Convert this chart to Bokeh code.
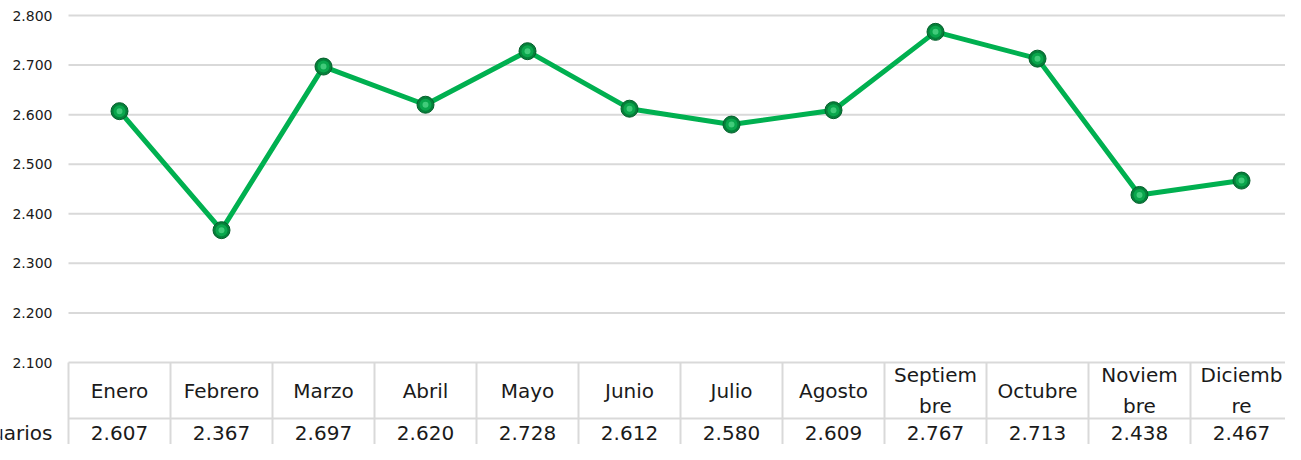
from bokeh.plotting import figure
from bokeh.models import Range1d
from bokeh.core.properties import value
from bokeh.embed import file_html
from bokeh.resources import INLINE

# ---- data ----
months = ["Enero", "Febrero", "Marzo", "Abril", "Mayo", "Junio", "Julio",
          "Agosto", "Septiembre", "Octubre", "Noviembre", "Diciembre"]
month_labels = ["Enero", "Febrero", "Marzo", "Abril", "Mayo", "Junio", "Julio",
                "Agosto", "Septiem\nbre", "Octubre", "Noviem\nbre", "Diciemb\nre"]
usuarios = [2607, 2367, 2697, 2620, 2728, 2612, 2580, 2609, 2767, 2713, 2438, 2467]
y_ticks = [2100, 2200, 2300, 2400, 2500, 2600, 2700, 2800]
row_label = "Usuarios"

def fmt(v):
    return f"{v:,}".replace(",", ".")

FONT = "DejaVu Sans"
GRID = "#d9d9d9"
TXT = "#1a1a1a"

# ---- layout geometry (pixels) ----
W, H = 1285, 444
LEFT = 68                           # px where the plot area / table begins
CELL = 102.0                        # px per category
PX_PER_UNIT = 347 / 700.0           # px per data unit
TOP_PAD = 15                        # px above 2800
y_top = 2800 + TOP_PAD / PX_PER_UNIT
y_bot = 2100 - (H - TOP_PAD - 347) / PX_PER_UNIT
x_start = 0.5 - LEFT / CELL
x_end = 0.5 + (W - LEFT) / CELL

def y_at(px_below_2100):
    return 2100 - px_below_2100 / PX_PER_UNIT

def x_at(px_from_left_edge):
    return 0.5 + px_from_left_edge / CELL

n = len(months)
xs = [i + 1 for i in range(n)]

p = figure(width=W, height=H, output_backend="svg", toolbar_location=None,
           x_axis_location=None, y_axis_location=None,
           min_border_left=0, min_border_right=0, min_border_top=0, min_border_bottom=0,
           x_range=Range1d(x_start, x_end), y_range=Range1d(y_bot, y_top))
p.outline_line_color = None
p.xgrid.visible = False
p.ygrid.visible = False
p.background_fill_color = "white"
p.border_fill_color = "white"

# gridlines (start at the plot-area edge)
m = len(y_ticks)
p.segment(x0=[0.5] * m, x1=[x_end] * m, y0=y_ticks, y1=y_ticks,
          line_color=GRID, line_width=2)

# data table lines
p.segment(x0=[0.5], x1=[x_end], y0=[y_at(56)], y1=[y_at(56)], line_color=GRID, line_width=2)
bounds = [i + 0.5 for i in range(n + 1)]
p.segment(x0=bounds, x1=bounds, y0=[2100] * len(bounds), y1=[y_bot] * len(bounds),
          line_color=GRID, line_width=2)

# y tick labels
p.text([x_at(-16)] * m, y_ticks, text=[fmt(v) for v in y_ticks],
       text_align="right", text_baseline="middle",
       text_font=value(FONT), text_font_size="14px", text_color=TXT)

# row label (cut at the left edge, as in the reference)
p.text([x_at(-16)], [y_at(70)], text=[row_label], text_align="right", text_baseline="middle",
       text_font=value(FONT), text_font_size="20px", text_color=TXT)

# line + markers
p.line(xs, usuarios, line_color="#00b050", line_width=5)
p.scatter(xs, usuarios, size=17, fill_color="#05803a", line_color="#045f2b", line_width=1)
p.scatter(xs, usuarios, size=12, fill_color="#0aa64c", line_color=None)
p.scatter(xs, usuarios, size=6, fill_color="#4fd486", line_color=None, fill_alpha=0.8)

# table texts
p.text(xs, [y_at(28)] * n, text=month_labels, text_align="center", text_baseline="middle",
       text_font=value(FONT), text_font_size="20px", text_color=TXT, text_line_height=1.3)
p.text(xs, [y_at(70)] * n, text=[fmt(v) for v in usuarios], text_align="center",
       text_baseline="middle", text_font=value(FONT), text_font_size="20px", text_color=TXT)

open("out.html", "w").write(file_html(p, INLINE))
